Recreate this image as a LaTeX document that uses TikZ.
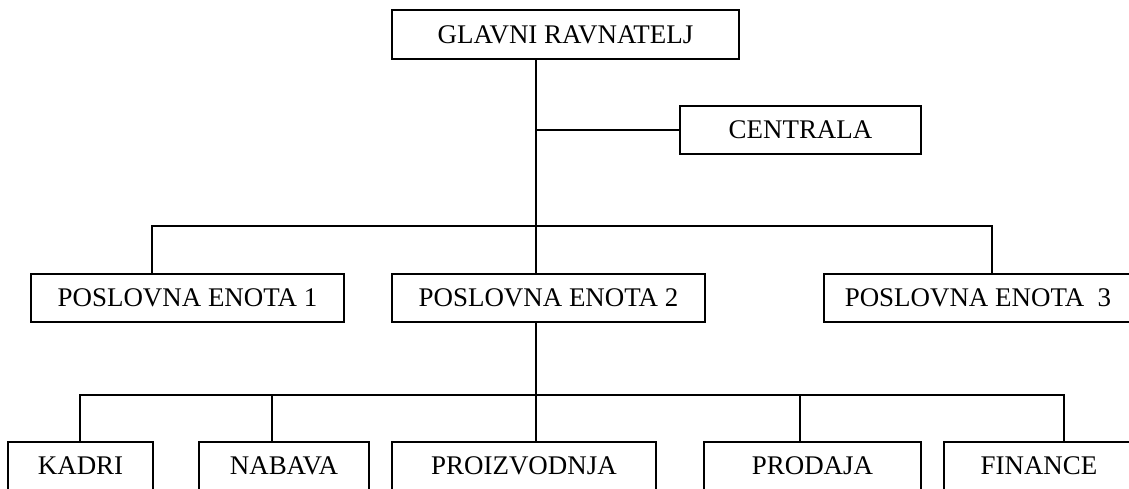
\documentclass[tikz,border=0pt]{standalone}
\usepackage{fontspec}
\setmainfont{Liberation Serif}

\begin{document}
\begin{tikzpicture}[x=0.75pt, y=-0.75pt,
  unit/.style={rectangle, draw, line width=1.1pt, minimum height=36pt, inner sep=0pt},
  link/.style={line width=1.1pt}]
  \fontsize{20.2}{24}\selectfont
  \useasboundingbox (0,0) rectangle (1129,489);
  \clip (0,0) rectangle (1129,489);

  \node[unit, minimum width=260.25pt, minimum height=36.75pt] (glavni) at (565.5,34.5) {GLAVNI RAVNATELJ};
  \node[unit, minimum width=180.75pt] (centrala) at (800.5,130) {CENTRALA};

  \node[unit, minimum width=234.75pt] (enota1) at (187.5,298) {POSLOVNA ENOTA 1};
  \node[unit, minimum width=234.75pt] (enota2) at (548.5,298) {POSLOVNA ENOTA 2};
  \node[unit, minimum width=231pt] (enota3) at (978,298) {POSLOVNA ENOTA\ \ 3};

  \node[unit, minimum width=108.75pt] (kadri) at (80.5,466) {KADRI};
  \node[unit, minimum width=127.5pt] (nabava) at (284,466) {NABAVA};
  \node[unit, minimum width=198pt] (proizvodnja) at (524,466) {PROIZVODNJA};
  \node[unit, minimum width=162.75pt] (prodaja) at (812.5,466) {PRODAJA};
  \node[unit, minimum width=142.5pt] (finance) at (1039,466) {FINANCE};

  \coordinate (trunk) at (536,226);
  \coordinate (busA) at (152,226);
  \coordinate (busB) at (992,226);
  \coordinate (lowA) at (80,395);
  \coordinate (lowB) at (1064,395);
  \coordinate (lowN) at (272,395);
  \coordinate (lowP) at (800,395);
  \coordinate (lowT) at (536,395);

  % vodstvo
  \draw[link] (glavni.south -| trunk) -- (enota2.north -| trunk);
  \draw[link] (centrala.west) -- (centrala.west -| trunk);

  % poslovne enote
  \draw[link] (enota1.north -| busA) -- (busA) -- (busB) -- (enota3.north -| busB);

  % sluzbe
  \draw[link] (enota2.south -| lowT) -- (proizvodnja.north -| lowT);
  \draw[link] (kadri.north -| lowA) -- (lowA) -- (lowB) -- (finance.north -| lowB);
  \draw[link] (lowN) -- (nabava.north -| lowN);
  \draw[link] (lowP) -- (prodaja.north -| lowP);
\end{tikzpicture}
\end{document}
